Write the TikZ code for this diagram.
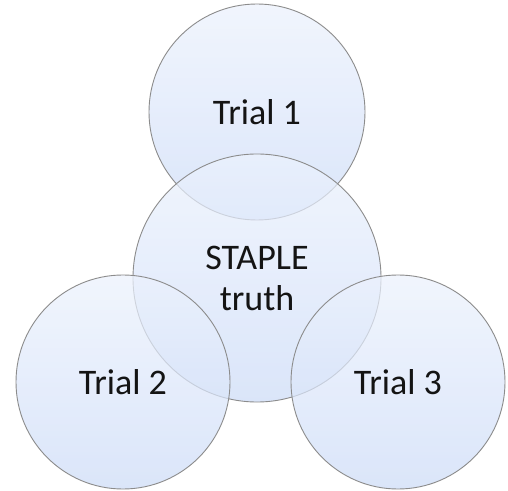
\documentclass[tikz,border=0pt]{standalone}
\usepackage{fontspec}
\setmainfont{Carlito}
\definecolor{ctop}{RGB}{236,242,253}
\definecolor{cbot}{RGB}{205,220,248}
\definecolor{cline}{RGB}{140,140,140}
\begin{document}
\begin{tikzpicture}[x=1pt,y=1pt,
  venn/.style={circle, draw=cline, line width=0.9pt, top color=ctop, bottom color=cbot,
    fill opacity=0.72, text opacity=1, inner sep=0pt, font=\fontsize{36}{41}\selectfont,
    align=center, text=black!92}]
\useasboundingbox (0,0) rectangle (508,490);
\fill[white] (0,0) rectangle (508,490);
\node[venn, minimum size=216pt] (t1) at (257,378) {Trial 1};
\node[venn, minimum size=248pt] (st) at (257,212) {STAPLE\\truth};
\node[venn, minimum size=214pt] (t2) at (123,108) {Trial 2};
\node[venn, minimum size=214pt] (t3) at (398,108) {Trial 3};
\end{tikzpicture}
\end{document}
